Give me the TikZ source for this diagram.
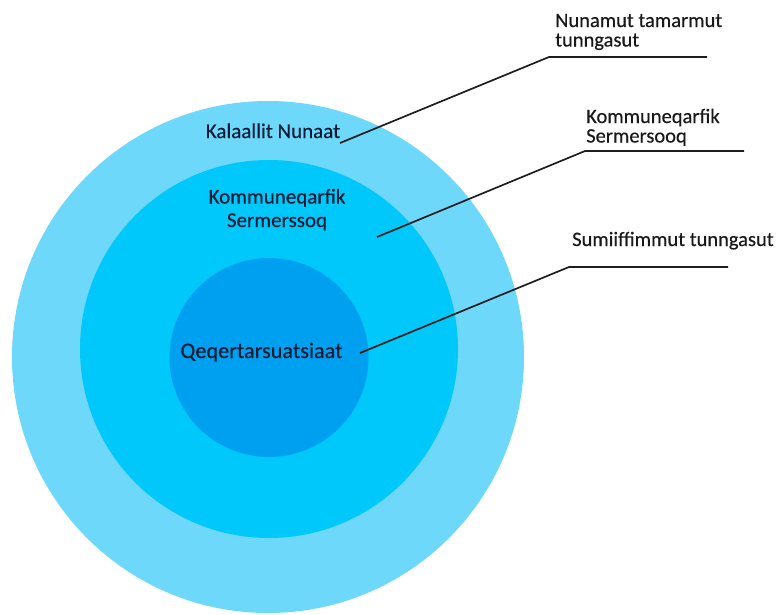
\documentclass[tikz,border=0pt]{standalone}
\usepackage{fontspec}
\setmainfont{Carlito}
\newfontfamily\labfont{Carlito}[FakeBold=0.4]
\definecolor{outerc}{RGB}{110,216,250}
\definecolor{midc}{RGB}{0,200,250}
\definecolor{innerc}{RGB}{0,160,240}
\definecolor{navy}{RGB}{12,28,55}
\definecolor{linec}{RGB}{30,30,30}
\begin{document}
\begin{tikzpicture}[x=1pt,y=-1pt,
  inlabel/.style={text=navy,font=\labfont\fontsize{21}{23.5}\selectfont,align=center,inner sep=0pt,anchor=base},
  outlabel/.style={text=black!90,font=\labfont\fontsize{20.5}{19.5}\selectfont,align=left,inner sep=0pt,anchor=base west},
  leader/.style={draw=linec,line width=1.7pt}]
\useasboundingbox (0,0) rectangle (776,614);
\fill[outerc] (268,357) circle[radius=256];
\fill[midc] (269,349) circle[radius=189];
\fill[innerc] (269,357.5) circle[radius=99.5];
% inner labels (anchor = baseline of last line)
\node[inlabel] (kn) at (273,138) {Kalaallit Nunaat};
\node[inlabel] (ks) at (277,227) {Kommuneqarfik\\Sermerssoq};
\node[inlabel,font=\labfont\fontsize{22.2}{24}\selectfont] (qq) at (261.5,358) {Qeqertarsuatsiaat};
% outer labels
\node[outlabel] (l1) at (555,46.5) {Nunamut tamarmut\\tunngasut};
\node[outlabel] (l2) at (586,142.5) {Kommuneqarfik\\Sermersooq};
\node[outlabel] (l3) at (572,246) {Sumiiffimmut tunngasut};
% leader lines
\coordinate (s1) at (340,143); \coordinate (c1) at (549,57); \coordinate (e1) at (707,57);
\coordinate (s2) at (377,237); \coordinate (c2) at (585,151); \coordinate (e2) at (744,151);
\coordinate (s3) at (360,353); \coordinate (c3) at (569,267); \coordinate (e3) at (728,267);
\draw[leader] (s1) -- (c1) -- (e1);
\draw[leader] (s2) -- (c2) -- (e2);
\draw[leader] (s3) -- (c3) -- (e3);
\end{tikzpicture}
\end{document}
